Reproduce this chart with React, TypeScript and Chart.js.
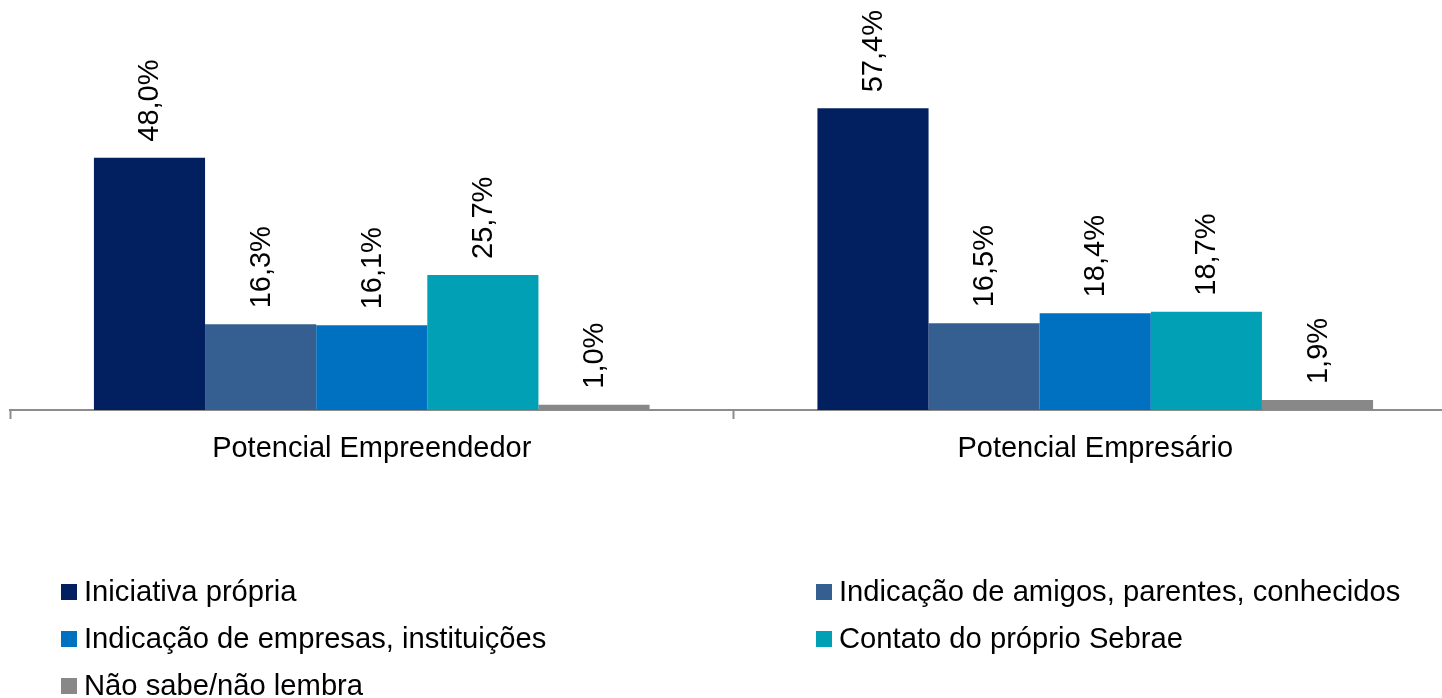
import React, { useEffect, useRef } from "react";
import { Chart, registerables } from "chart.js";

Chart.register(...registerables);

const categories = ["Potencial Empreendedor", "Potencial Empresário"];
const seriesNames = [
  "Iniciativa própria",
  "Indicação de amigos, parentes, conhecidos",
  "Indicação de empresas, instituições",
  "Contato do próprio Sebrae",
  "Não sabe/não lembra",
];
const iniciativa = [48.0, 57.4];
const amigos = [16.3, 16.5];
const empresas = [16.1, 18.4];
const sebrae = [25.7, 18.7];
const naoSabe = [1.0, 1.9];
const seriesColors = ["#022060", "#365F91", "#0071C1", "#02A0B5", "#888888"];

const FONT = "'Liberation Sans', Arial, sans-serif";

const fmt = (v: number) => v.toFixed(1).replace(".", ",") + "%";

const labelPlugin = {
  id: "rotLabels",
  afterDatasetsDraw(chart: any) {
    const ctx = chart.ctx;
    ctx.save();
    ctx.font = `29px ${FONT}`;
    ctx.fillStyle = "#000";
    chart.data.datasets.forEach((ds: any, di: number) => {
      const meta = chart.getDatasetMeta(di);
      meta.data.forEach((bar: any, i: number) => {
        ctx.save();
        ctx.translate(bar.x, bar.y - 16);
        ctx.rotate(-Math.PI / 2);
        ctx.textAlign = "left";
        ctx.textBaseline = "middle";
        ctx.fillText(fmt(ds.data[i]), 0, 1);
        ctx.restore();
      });
    });
    ctx.restore();
  },
};

const legendPlugin = {
  id: "customLegend",
  afterDraw(chart: any) {
    const ctx = chart.ctx;
    ctx.save();
    ctx.font = `29.2px ${FONT}`;
    ctx.textAlign = "left";
    ctx.textBaseline = "middle";
    const cols = [61, 816];
    const rows = [592, 639, 686];
    chart.data.datasets.forEach((ds: any, i: number) => {
      const x = cols[i % 2];
      const y = rows[Math.floor(i / 2)];
      ctx.fillStyle = ds.backgroundColor;
      ctx.fillRect(x, y - 8, 16, 16);
      ctx.fillStyle = "#000";
      ctx.fillText(ds.label, x + 23, y + 1);
    });
    ctx.restore();
  },
};

export default function App() {
  const ref = useRef<HTMLCanvasElement>(null);
  useEffect(() => {
    const values = [iniciativa, amigos, empresas, sebrae, naoSabe];
    const chart = new Chart(ref.current!, {
      type: "bar",
      data: {
        labels: categories,
        datasets: values.map((d, i) => ({
          label: seriesNames[i],
          data: d,
          backgroundColor: seriesColors[i],
          borderWidth: 0,
          barPercentage: 1,
          categoryPercentage: 0.768,
        })),
      },
      options: {
        animation: false,
        responsive: false,
        maintainAspectRatio: false,
        layout: { padding: { left: 10, right: 3, top: 0, bottom: 0 } },
        plugins: { legend: { display: false }, tooltip: { enabled: false } },
        scales: {
          y: { display: false, min: 0, max: 78 },
          x: {
            afterFit: (s: any) => {
              s.height = 288;
            },
            border: { display: true, color: "#8C8C8C", width: 2 },
            grid: {
              offset: true,
              drawOnChartArea: false,
              drawTicks: true,
              tickLength: 9,
              tickWidth: 2,
              tickColor: "#8C8C8C",
              color: "#8C8C8C",
            },
            ticks: {
              color: "#000",
              font: { family: FONT, size: 29 },
              padding: 13,
              maxRotation: 0,
            },
          },
        },
      },
      plugins: [labelPlugin, legendPlugin],
    });
    return () => chart.destroy();
  }, []);
  return (
    <div
      style={{
        position: "fixed",
        left: 0,
        top: 0,
        width: 1442,
        height: 698,
        overflow: "hidden",
        background: "#fff",
      }}
    >
      <canvas ref={ref} width={1460} height={698} style={{ display: "block" }} />
    </div>
  );
}
